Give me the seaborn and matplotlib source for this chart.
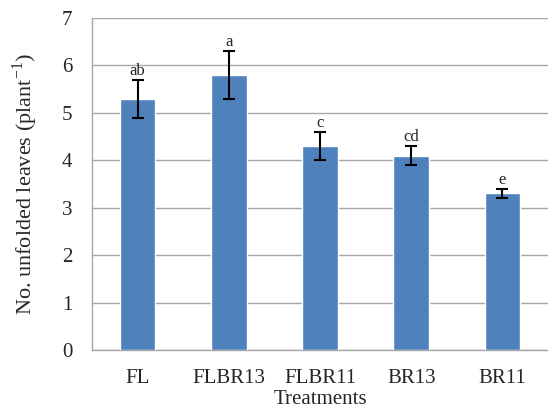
import numpy as np
import pandas as pd
import seaborn as sns
import matplotlib.pyplot as plt

sns.set_style("white")
plt.rcParams['font.family'] = ['Liberation Serif', 'DejaVu Serif']
plt.rcParams['mathtext.fontset'] = 'custom'
plt.rcParams['mathtext.rm'] = 'Liberation Serif'

# Dados
tratamentos = ["FL", "FLBR13", "FLBR11", "BR13", "BR11"]
medias = [5.3, 5.8, 4.3, 4.1, 3.3]
erros = [0.4, 0.5, 0.3, 0.2, 0.1]
letras = ["ab", "a", "c", "cd", "e"]

df = pd.DataFrame({"tratamento": tratamentos, "folhas": medias})

fig = plt.figure(figsize=(5.48, 4.13), dpi=100)
ax = fig.add_axes([0.168, 0.1525, 0.832, 0.804])

sns.barplot(x="tratamento", y="folhas", data=df, color="#4F81BD",
            saturation=1, width=0.39, errorbar=None, ax=ax, zorder=3)

x = np.arange(len(tratamentos))
ax.errorbar(x, medias, yerr=erros, fmt="none", ecolor="black",
            elinewidth=1.5, capsize=4.5, capthick=1.5, zorder=4)

for xi, m, e, l in zip(x, medias, erros, letras):
    ax.text(xi, m + e + 0.02, l, ha="center", va="bottom", fontsize=12)

ax.set_ylim(0, 7)
ax.set_xlim(-0.5, len(tratamentos) - 0.5)
ax.set_yticks(range(0, 8))
ax.yaxis.grid(True, color="#A6A6A6", linewidth=1, zorder=0)
ax.set_axisbelow(True)

for lado in ["top", "right"]:
    ax.spines[lado].set_visible(False)
for lado in ["left", "bottom"]:
    ax.spines[lado].set_color("#A6A6A6")
    ax.spines[lado].set_linewidth(1)

ax.tick_params(axis="y", length=0, labelsize=15, pad=14)
ax.tick_params(axis="x", which="major", length=0, labelsize=15, pad=14)
ax.set_xticks(np.arange(0.5, len(tratamentos) - 0.5), minor=True)
ax.tick_params(axis="x", which="minor", direction="in", length=6,
               color="#A6A6A6", width=1)

ax.set_xlabel("Treatments", fontsize=15, labelpad=1)
ax.set_ylabel(r"No. unfolded leaves (plant$^{\mathrm{-1}}$)", fontsize=16, labelpad=16)

plt.savefig("out.png", dpi=100)
plt.close()
